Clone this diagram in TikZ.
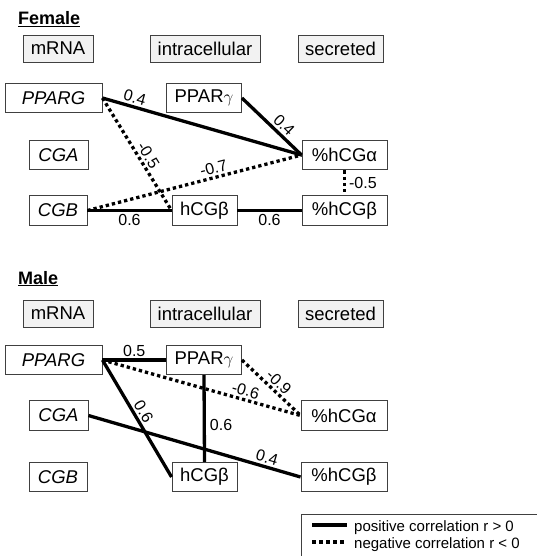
\documentclass[tikz,border=0pt]{standalone}
\usepackage{fontspec}
\setmainfont{Liberation Sans}
\definecolor{boxgray}{HTML}{404040}
\definecolor{headfill}{HTML}{F2F2F2}
\begin{document}
\begin{tikzpicture}[x=1pt,y=-1pt,
  box/.style={draw=boxgray, line width=0.9pt, fill=white, minimum height=29.5pt, inner sep=0pt, font=\fontsize{18.5}{21}\selectfont},
  head/.style={box, fill=headfill, minimum height=27pt},
  poscor/.style={line width=3.3pt},
  negcor/.style={line width=3.3pt, dash pattern=on 3.3pt off 3pt},
  lab/.style={font=\fontsize{16}{18}\selectfont, inner sep=2pt},
  ttl/.style={font=\fontsize{18}{20}\selectfont\bfseries, anchor=base west, inner sep=0pt},
  legtext/.style={font=\fontsize{15}{17}\selectfont, anchor=base west, inner sep=0pt}
]
\useasboundingbox (0,0) rectangle (536,556);

% ---------------- Female ----------------
\node[ttl] (tf) at (18,25) {\underline{Female}};
\node[head, minimum width=70pt] (fmrna) at (58,48.5) {mRNA};
\node[head, minimum width=110pt] (fintra) at (205,48.5) {intracellular};
\node[head, minimum width=85pt] (fsec) at (340.5,48.5) {secreted};

\node[box, minimum width=97pt] (fPPARG) at (53.5,98) {\itshape PPARG};
\node[box, minimum width=75pt] (fPPARg) at (204,98) {PPAR$\gamma$};
\node[box, minimum width=59pt] (fCGA) at (58.5,155) {\itshape CGA};
\node[box, minimum width=85pt] (fpa) at (344.5,155) {\%hCGα};
\node[box, minimum width=58pt] (fCGB) at (58,210.5) {\itshape CGB};
\node[box, minimum width=65pt] (fhb) at (204.5,210.5) {hCGβ};
\node[box, minimum width=85pt] (fpb) at (344.5,210.5) {\%hCGβ};

\draw[poscor] (fPPARG.east) -- node[lab, sloped, above, pos=0.15] {0.4} (fpa.west);
\draw[poscor] (fPPARg.east) -- node[lab, sloped, above, pos=0.6] {0.4} (fpa.west);
\draw[negcor] (fPPARG.east) -- node[lab, sloped, above, pos=0.55] {-0.5} (fhb.west);
\draw[negcor] (fCGB.east) -- node[lab, sloped, above, pos=0.6] {-0.7} (fpa.west);
\draw[negcor] (fpa.south) -- node[lab, right, xshift=1pt] {-0.5} (fpb.north);
\draw[poscor] (fCGB.east) -- node[lab, below] {0.6} (fhb.west);
\draw[poscor] (fhb.east) -- node[lab, below] {0.6} (fpb.west);

% ---------------- Male ----------------
\node[ttl] (tm) at (18,284) {\underline{Male}};
\node[head, minimum width=70pt] (mmrna) at (58,313.5) {mRNA};
\node[head, minimum width=110pt] (mintra) at (205,313.5) {intracellular};
\node[head, minimum width=85pt] (msec) at (340.5,313.5) {secreted};

\node[box, minimum width=97pt] (mPPARG) at (53.5,360) {\itshape PPARG};
\node[box, minimum width=75pt] (mPPARg) at (204,360) {PPAR$\gamma$};
\node[box, minimum width=59pt] (mCGA) at (58.5,415.5) {\itshape CGA};
\node[box, minimum width=86pt] (mpa) at (344,415.5) {\%hCGα};
\node[box, minimum width=58pt] (mCGB) at (58,477) {\itshape CGB};
\node[box, minimum width=65pt] (mhb) at (204.5,477) {hCGβ};
\node[box, minimum width=86pt] (mpb) at (344,477) {\%hCGβ};

\draw[poscor] (mPPARG.east) -- node[lab, above] {0.5} (mPPARg.west);
\draw[negcor] (mPPARG.east) -- node[lab, sloped, above, pos=0.71] {-0.6} (mpa.west);
\draw[negcor] (mPPARg.east) -- node[lab, sloped, above, pos=0.52] {-0.9} (mpa.west);
\draw[poscor] (mPPARG.east) -- node[lab, sloped, above, pos=0.48] {0.6} (mhb.west);
\draw[poscor] (mPPARg.south) -- node[lab, right, pos=0.57, xshift=2pt] {0.6} (mhb.north);
\draw[poscor] (mCGA.east) -- node[lab, sloped, above, pos=0.83] {0.4} (mpb.west);

% ---------------- Legend ----------------
\node[draw=boxgray, line width=0.9pt, anchor=north west, minimum width=250pt, minimum height=60pt, inner sep=0pt] (legend) at (301,514) {};
\coordinate (l1a) at (312,525);
\coordinate (l1b) at (347,525);
\coordinate (l2a) at (312,542);
\coordinate (l2b) at (347,542);
\draw[line width=3.3pt] (l1a) -- (l1b);
\draw[line width=3.3pt, dash pattern=on 3.5pt off 3.5pt] (l2a) -- (l2b);
\node[legtext] (lt1) at (354,531.5) {positive correlation r > 0};
\node[legtext] (lt2) at (354,548.5) {negative correlation r < 0};
\end{tikzpicture}
\end{document}
